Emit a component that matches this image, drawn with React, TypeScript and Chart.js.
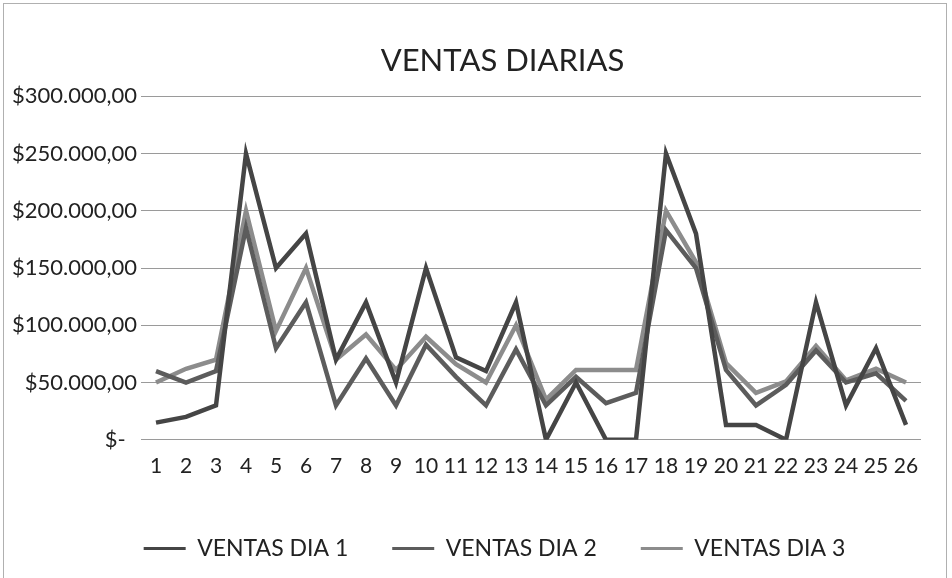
import React, { useEffect, useRef } from "react";
import { Chart, registerables } from "chart.js";

Chart.register(...registerables);

const categories = ["1","2","3","4","5","6","7","8","9","10","11","12","13","14","15","16","17","18","19","20","21","22","23","24","25","26"];

const ventasDia1 = [15000, 20000, 30000, 250000, 150000, 180000, 70000, 120000, 50000, 150000, 72000, 60000, 120000, 0, 50000, 0, 0, 250000, 180000, 13000, 13000, 0, 120000, 30000, 80000, 13000];
const ventasDia2 = [60000, 50000, 60000, 185000, 80000, 120000, 30000, 71000, 30000, 83000, 55000, 30000, 79000, 30000, 55000, 32000, 41000, 183000, 150000, 61000, 30000, 48000, 78000, 50000, 58000, 34000];
const ventasDia3 = [50000, 62000, 70000, 200000, 95000, 150000, 70000, 92000, 61000, 90000, 66000, 50000, 100000, 35000, 61000, 61000, 61000, 200000, 155000, 67000, 41000, 51000, 82000, 52000, 62000, 50000];

const seriesNames = ["VENTAS DIA 1", "VENTAS DIA 2", "VENTAS DIA 3"];
const seriesColors = ["#454545", "#5c5c5c", "#8c8c8c"];

function formatMoney(v: number): string {
  if (v === 0) return "$-  ";
  const s = Math.round(v).toString().replace(/\B(?=(\d{3})+(?!\d))/g, ".");
  return "$" + s + ",00";
}

const shiftBoxes = {
  id: "shiftBoxes",
  afterLayout(chart: any) {
    if (chart.legend) { chart.legend.left += 34; chart.legend.right += 34; }
    if (chart.titleBlock) { chart.titleBlock.left += 42; chart.titleBlock.right += 42; }
  },
};

export default function App() {
  const canvasRef = useRef<HTMLCanvasElement | null>(null);

  useEffect(() => {
    document.body.style.margin = "0";
    const ctx = canvasRef.current;
    if (!ctx) return;
    const values = [ventasDia1, ventasDia2, ventasDia3];
    const chart = new Chart(ctx, {
      type: "line",
      plugins: [shiftBoxes],
      data: {
        labels: categories,
        datasets: values.map((d, i) => ({
          label: seriesNames[i],
          data: d,
          borderColor: seriesColors[i],
          backgroundColor: seriesColors[i],
          borderWidth: 4.5,
          pointRadius: 0,
          tension: 0,
          fill: false,
        })),
      },
      options: {
        animation: false,
        responsive: false,
        maintainAspectRatio: false,
        layout: { padding: { left: 0, right: 31, top: 0, bottom: 8 } },
        plugins: {
          title: {
            display: true,
            text: "VENTAS DIARIAS",
            color: "#222",
            font: { family: "Lato", size: 31, weight: "normal" },
            padding: { top: 42, bottom: 17 },
          },
          legend: {
            position: "bottom",
            labels: {
              boxWidth: 42,
              boxHeight: 3,
              padding: 44,
              color: "#222",
              font: { family: "Lato", size: 23 },
              generateLabels: (c: any) =>
                c.data.datasets.map((ds: any, i: number) => ({
                  text: ds.label,
                  fillStyle: seriesColors[i],
                  strokeStyle: "rgba(0,0,0,0)",
                  lineWidth: 0,
                  fontColor: "#222",
                  hidden: false,
                  datasetIndex: i,
                })),
            },
          },
          tooltip: { enabled: false },
        },
        scales: {
          x: {
            offset: true,
            grid: { display: false, drawTicks: false },
            border: { display: false },
            ticks: {
              color: "#222",
              font: { family: "Lato", size: 21 },
              padding: 14,
              maxRotation: 0,
              autoSkip: false,
            },
          },
          y: {
            min: 0,
            max: 300000,
            afterFit: (scale: any) => { scale.width = 141; },
            grid: { color: "#9a9a9a", lineWidth: 1, drawTicks: false },
            border: { display: false },
            ticks: {
              stepSize: 50000,
              color: "#222",
              font: { family: "Lato", size: 22 },
              padding: 4,
              callback: (v: any) => formatMoney(Number(v)),
            },
          },
        },
      },
    });
    return () => chart.destroy();
  }, []);

  return (
    <div style={{ position: "relative", width: 952, height: 578 }}>
      <canvas ref={canvasRef} width={952} height={578} style={{ display: "block" }} />
      <div style={{ position: "absolute", left: 3, top: 3, width: 942, height: 580, border: "1px solid #b0b0b0", pointerEvents: "none" }} />
    </div>
  );
}
